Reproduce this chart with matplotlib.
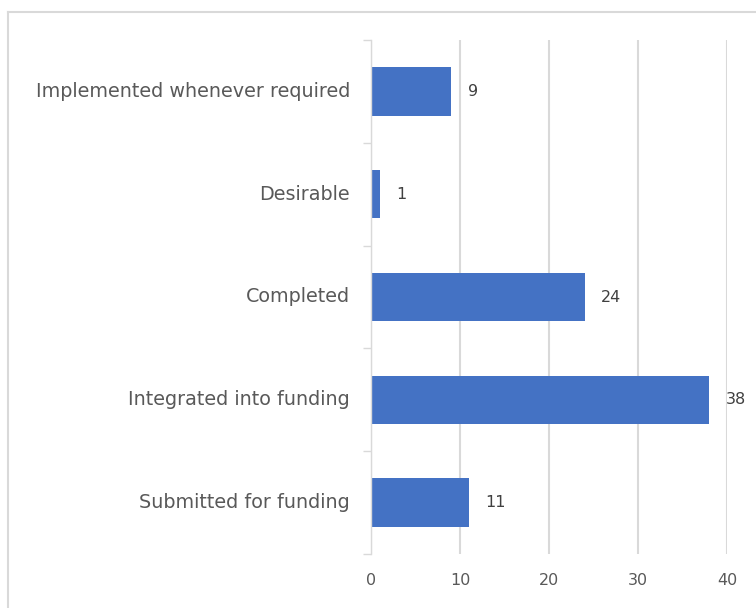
import matplotlib.pyplot as plt
from matplotlib.lines import Line2D

# data (bottom to top)
categories = ['Submitted for funding', 'Integrated into funding', 'Completed',
              'Desirable', 'Implemented whenever required']
values = [11, 38, 24, 1, 9]

plt.rcParams['font.family'] = ['DejaVu Sans']

fig = plt.figure(figsize=(7.56, 6.08), dpi=100)
ax = fig.add_axes([371/756, 1-554/608, (727-371)/756, (554-40)/608])

pos = list(range(len(categories)))
ax.barh(pos, values, height=0.47, color='#4472C4', zorder=3)
for p, v in zip(pos, values):
    ax.annotate(str(v), (v, p), xytext=(12, 0), textcoords='offset points',
                va='center', ha='left', fontsize=11.5, color='#404040',
                annotation_clip=False)

ax.set_xlim(0, 40)
ax.set_ylim(-0.5, len(categories)-0.5)
ax.set_xticks([0, 10, 20, 30, 40])
ax.tick_params(axis='x', length=0, pad=14, labelsize=11.5, labelcolor='#595959')
ax.xaxis.grid(True, color='#d9d9d9', linewidth=1.5, zorder=0)

# boundary ticks on the y axis, labels in between
ax.set_yticks([p - 0.5 for p in pos] + [pos[-1] + 0.5])
ax.set_yticklabels([])
ax.set_yticks(pos, minor=True)
ax.set_yticklabels(categories, minor=True, va='center')
ax.tick_params(axis='y', which='major', length=6, color='#d9d9d9', width=1)
ax.tick_params(axis='y', which='minor', length=0, pad=15, labelsize=13.8, labelcolor='#595959')

for s in ['top', 'right', 'bottom']:
    ax.spines[s].set_visible(False)
ax.spines['left'].set_color('#d9d9d9')
ax.spines['left'].set_linewidth(1)
ax.spines['left'].set_zorder(4)

# chart border (cut off at right and bottom)
fig.add_artist(Line2D([8/756, 1], [1-12/608, 1-12/608], color='#d9d9d9', lw=1.5))
fig.add_artist(Line2D([8/756, 8/756], [0, 1-12/608], color='#d9d9d9', lw=1.5))

fig.savefig('out.png', dpi=100)
